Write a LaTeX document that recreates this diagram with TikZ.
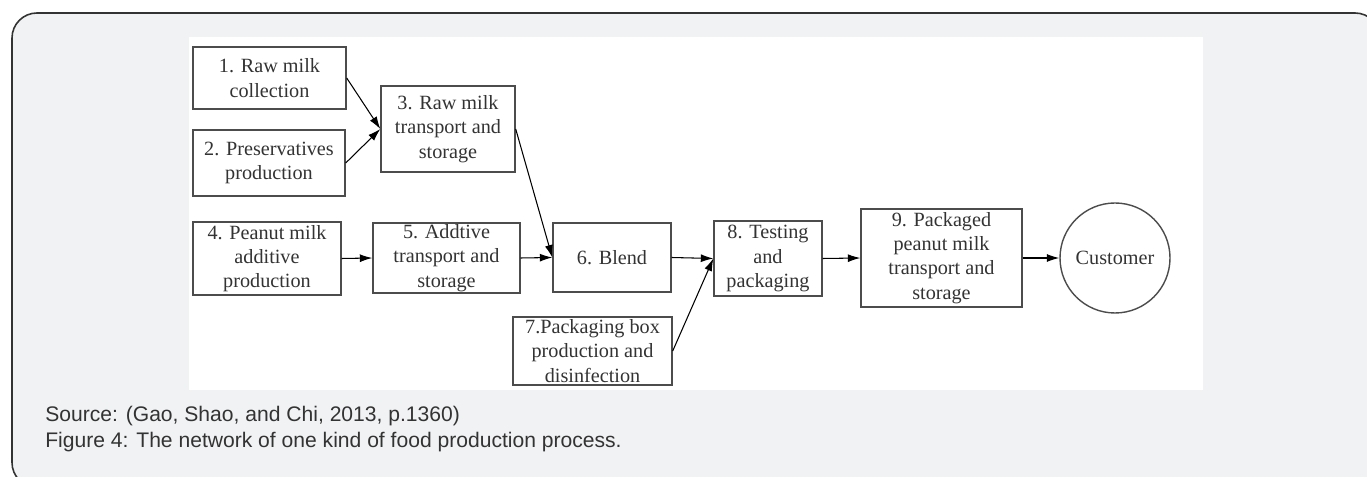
\documentclass[tikz,border=0pt]{standalone}
\usepackage{fontspec}
\setmainfont{Liberation Serif}
\newfontfamily\capfont{Liberation Sans}
\usetikzlibrary{arrows.meta}
\definecolor{pagegray}{HTML}{F1F2F4}
\definecolor{inkgray}{HTML}{333333}
\tikzset{
  stage/.style={draw=black!70, line width=0.8pt, fill=white, align=center,
    inner sep=0pt, text=inkgray, font=\fontsize{11.5}{13.8}\selectfont},
  flow/.style={-{Latex[length=2.5mm,width=1.6mm]}, line width=0.6pt, black},
  caption/.style={anchor=base west, inner sep=0pt, text=inkgray,
    font=\capfont\fontsize{12}{14.8}\selectfont}
}
\begin{document}
\begin{tikzpicture}
      \useasboundingbox (0,0) rectangle (27.34,-9.54);
      \begin{scope}
        \clip (0,0) rectangle (27.34,-9.54);
        \draw[fill=pagegray, draw=black!80, line width=0.9pt, rounded corners=0.5cm]
          (0.24,-0.26) rectangle (27.6,-9.75);
      \end{scope}
      \fill[white] (3.78,-0.74) rectangle (24.06,-7.80);
      \draw
        (5.39,-1.56) node[stage, minimum width=3.06cm, minimum height=1.24cm] (1) {1. Raw milk\\collection}
        (5.38,-3.26) node[stage, minimum width=3.04cm, minimum height=1.32cm] (2) {2. Preservatives\\production}
        (8.96,-2.58) node[stage, minimum width=2.68cm, minimum height=1.72cm] (3) {3. Raw milk\\transport and\\storage}
        (5.34,-5.17) node[stage, minimum width=2.96cm, minimum height=1.46cm] (4) {4. Peanut milk\\additive\\production}
        (8.93,-5.16) node[stage, minimum width=2.94cm, minimum height=1.40cm] (5) {5. Addtive\\transport and\\storage}
        (12.24,-5.15) node[stage, minimum width=2.36cm, minimum height=1.38cm] (6) {6. Blend}
        (11.85,-7.02) node[stage, minimum width=3.18cm, minimum height=1.36cm] (7) {7.Packaging box\\production and\\disinfection}
        (15.36,-5.17) node[stage, minimum width=2.16cm, minimum height=1.50cm] (8) {8. Testing\\and\\packaging}
        (18.83,-5.16) node[stage, minimum width=3.22cm, minimum height=1.96cm] (9) {9. Packaged\\peanut milk\\transport and\\storage}
        (22.30,-5.16) node[stage, circle, minimum size=2.2cm] (c) {Customer};
      \begin{scope}[flow]
        \draw (1.east) to (3.west);
        \draw (2.east) to (3.west);
        \draw (3.east) to (6.west);
        \draw (4.east) to (5.west);
        \draw (5.east) to (6.west);
        \draw (6.east) to (8.west);
        \draw (7.east) to (8.west);
        \draw (8.east) to (9.west);
        \draw (9.east) to (c.west);
      \end{scope}
      \node[caption] (src) at (0.90,-8.44) {Source: (Gao, Shao, and Chi, 2013, p.1360)};
      \node[caption] (fig) at (0.90,-8.96) {Figure 4: The network of one kind of food production process.};
    \end{tikzpicture}
\end{document}
